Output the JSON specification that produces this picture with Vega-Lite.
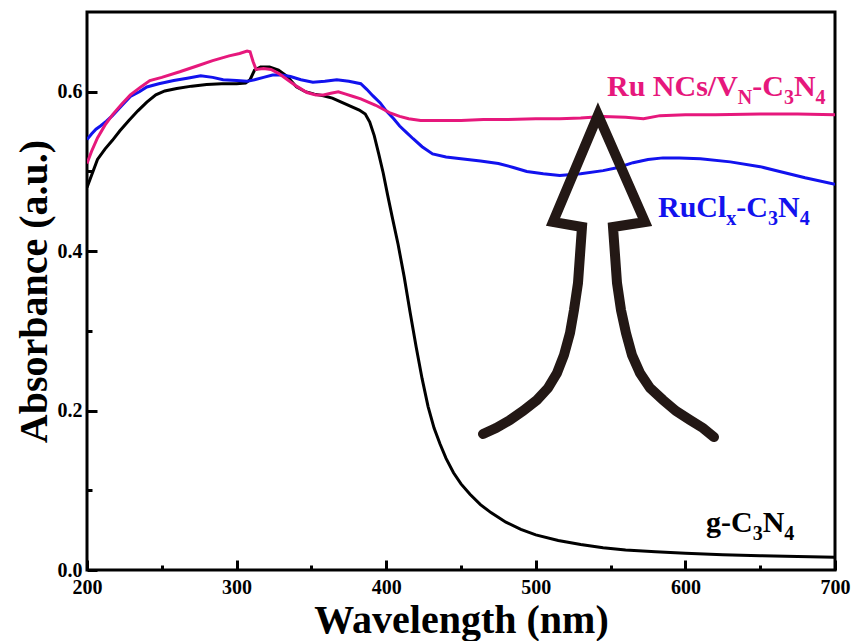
{
  "$schema": "https://vega.github.io/schema/vega-lite/v6.json",
  "width": 748,
  "height": 558,
  "autosize": {"type": "none"},
  "padding": {"left": 87, "top": 12, "right": 18, "bottom": 71},
  "background": "white",
  "config": {
    "view": {"stroke": "#000000", "strokeWidth": 3},
    "axis": {
      "domain": false,
      "grid": false,
      "tickColor": "#000000",
      "tickWidth": 3,
      "labelFont": "Liberation Serif",
      "labelFontWeight": "bold",
      "labelFontSize": 20,
      "labelColor": "#000000",
      "titleFont": "Liberation Serif",
      "titleFontWeight": "bold",
      "titleFontSize": 40,
      "titleColor": "#000000",
      "labelFlush": false,
      "labelOverlap": false,
      "labelBound": false
    }
  },
  "datasets": {
    "curves": [
      {"series": "g", "wl": 200, "abs": 0.480},
      {"series": "g", "wl": 203, "abs": 0.495},
      {"series": "g", "wl": 207, "abs": 0.515},
      {"series": "g", "wl": 212, "abs": 0.528},
      {"series": "g", "wl": 217, "abs": 0.539},
      {"series": "g", "wl": 222, "abs": 0.551},
      {"series": "g", "wl": 228, "abs": 0.564},
      {"series": "g", "wl": 234, "abs": 0.576},
      {"series": "g", "wl": 240, "abs": 0.587},
      {"series": "g", "wl": 246, "abs": 0.596},
      {"series": "g", "wl": 252, "abs": 0.601},
      {"series": "g", "wl": 260, "abs": 0.604},
      {"series": "g", "wl": 270, "abs": 0.607},
      {"series": "g", "wl": 280, "abs": 0.609},
      {"series": "g", "wl": 290, "abs": 0.610},
      {"series": "g", "wl": 300, "abs": 0.610},
      {"series": "g", "wl": 306, "abs": 0.611},
      {"series": "g", "wl": 309, "abs": 0.615},
      {"series": "g", "wl": 312, "abs": 0.627},
      {"series": "g", "wl": 316, "abs": 0.631},
      {"series": "g", "wl": 322, "abs": 0.631},
      {"series": "g", "wl": 328, "abs": 0.627},
      {"series": "g", "wl": 334, "abs": 0.619},
      {"series": "g", "wl": 340, "abs": 0.606},
      {"series": "g", "wl": 346, "abs": 0.600},
      {"series": "g", "wl": 352, "abs": 0.597},
      {"series": "g", "wl": 358, "abs": 0.595},
      {"series": "g", "wl": 364, "abs": 0.592},
      {"series": "g", "wl": 370, "abs": 0.587},
      {"series": "g", "wl": 376, "abs": 0.582},
      {"series": "g", "wl": 382, "abs": 0.577},
      {"series": "g", "wl": 386, "abs": 0.572},
      {"series": "g", "wl": 389, "abs": 0.562},
      {"series": "g", "wl": 392, "abs": 0.545},
      {"series": "g", "wl": 395, "abs": 0.522},
      {"series": "g", "wl": 398, "abs": 0.498},
      {"series": "g", "wl": 401, "abs": 0.470},
      {"series": "g", "wl": 404, "abs": 0.443},
      {"series": "g", "wl": 408, "abs": 0.408},
      {"series": "g", "wl": 412, "abs": 0.368},
      {"series": "g", "wl": 416, "abs": 0.323},
      {"series": "g", "wl": 420, "abs": 0.280},
      {"series": "g", "wl": 424, "abs": 0.240},
      {"series": "g", "wl": 428, "abs": 0.205},
      {"series": "g", "wl": 432, "abs": 0.178},
      {"series": "g", "wl": 436, "abs": 0.158},
      {"series": "g", "wl": 440, "abs": 0.140},
      {"series": "g", "wl": 445, "abs": 0.122},
      {"series": "g", "wl": 450, "abs": 0.108},
      {"series": "g", "wl": 456, "abs": 0.095},
      {"series": "g", "wl": 463, "abs": 0.082},
      {"series": "g", "wl": 470, "abs": 0.072},
      {"series": "g", "wl": 480, "abs": 0.060},
      {"series": "g", "wl": 490, "abs": 0.051},
      {"series": "g", "wl": 500, "abs": 0.044},
      {"series": "g", "wl": 515, "abs": 0.037},
      {"series": "g", "wl": 530, "abs": 0.032},
      {"series": "g", "wl": 545, "abs": 0.028},
      {"series": "g", "wl": 560, "abs": 0.025},
      {"series": "g", "wl": 580, "abs": 0.023},
      {"series": "g", "wl": 600, "abs": 0.021},
      {"series": "g", "wl": 625, "abs": 0.019},
      {"series": "g", "wl": 650, "abs": 0.018},
      {"series": "g", "wl": 675, "abs": 0.017},
      {"series": "g", "wl": 700, "abs": 0.016},

      {"series": "RuCl", "wl": 200, "abs": 0.540},
      {"series": "RuCl", "wl": 203, "abs": 0.547},
      {"series": "RuCl", "wl": 206, "abs": 0.553},
      {"series": "RuCl", "wl": 209, "abs": 0.557},
      {"series": "RuCl", "wl": 213, "abs": 0.563},
      {"series": "RuCl", "wl": 217, "abs": 0.570},
      {"series": "RuCl", "wl": 223, "abs": 0.582},
      {"series": "RuCl", "wl": 229, "abs": 0.594},
      {"series": "RuCl", "wl": 235, "abs": 0.600},
      {"series": "RuCl", "wl": 240, "abs": 0.606},
      {"series": "RuCl", "wl": 248, "abs": 0.610},
      {"series": "RuCl", "wl": 258, "abs": 0.614},
      {"series": "RuCl", "wl": 267, "abs": 0.617},
      {"series": "RuCl", "wl": 276, "abs": 0.620},
      {"series": "RuCl", "wl": 284, "abs": 0.618},
      {"series": "RuCl", "wl": 291, "abs": 0.615},
      {"series": "RuCl", "wl": 300, "abs": 0.614},
      {"series": "RuCl", "wl": 307, "abs": 0.613},
      {"series": "RuCl", "wl": 312, "abs": 0.615},
      {"series": "RuCl", "wl": 318, "abs": 0.618},
      {"series": "RuCl", "wl": 324, "abs": 0.621},
      {"series": "RuCl", "wl": 330, "abs": 0.621},
      {"series": "RuCl", "wl": 336, "abs": 0.619},
      {"series": "RuCl", "wl": 343, "abs": 0.615},
      {"series": "RuCl", "wl": 351, "abs": 0.612},
      {"series": "RuCl", "wl": 359, "abs": 0.613},
      {"series": "RuCl", "wl": 367, "abs": 0.615},
      {"series": "RuCl", "wl": 375, "abs": 0.613},
      {"series": "RuCl", "wl": 383, "abs": 0.610},
      {"series": "RuCl", "wl": 387, "abs": 0.603},
      {"series": "RuCl", "wl": 391, "abs": 0.595},
      {"series": "RuCl", "wl": 396, "abs": 0.586},
      {"series": "RuCl", "wl": 400, "abs": 0.576},
      {"series": "RuCl", "wl": 405, "abs": 0.566},
      {"series": "RuCl", "wl": 409, "abs": 0.557},
      {"series": "RuCl", "wl": 414, "abs": 0.548},
      {"series": "RuCl", "wl": 418, "abs": 0.541},
      {"series": "RuCl", "wl": 424, "abs": 0.531},
      {"series": "RuCl", "wl": 431, "abs": 0.522},
      {"series": "RuCl", "wl": 440, "abs": 0.518},
      {"series": "RuCl", "wl": 450, "abs": 0.516},
      {"series": "RuCl", "wl": 463, "abs": 0.513},
      {"series": "RuCl", "wl": 475, "abs": 0.510},
      {"series": "RuCl", "wl": 485, "abs": 0.505},
      {"series": "RuCl", "wl": 494, "abs": 0.500},
      {"series": "RuCl", "wl": 505, "abs": 0.497},
      {"series": "RuCl", "wl": 516, "abs": 0.495},
      {"series": "RuCl", "wl": 530, "abs": 0.497},
      {"series": "RuCl", "wl": 545, "abs": 0.501},
      {"series": "RuCl", "wl": 555, "abs": 0.505},
      {"series": "RuCl", "wl": 565, "abs": 0.511},
      {"series": "RuCl", "wl": 575, "abs": 0.515},
      {"series": "RuCl", "wl": 585, "abs": 0.517},
      {"series": "RuCl", "wl": 596, "abs": 0.517},
      {"series": "RuCl", "wl": 610, "abs": 0.516},
      {"series": "RuCl", "wl": 630, "abs": 0.512},
      {"series": "RuCl", "wl": 650, "abs": 0.506},
      {"series": "RuCl", "wl": 663, "abs": 0.500},
      {"series": "RuCl", "wl": 680, "abs": 0.492},
      {"series": "RuCl", "wl": 700, "abs": 0.484},

      {"series": "RuNC", "wl": 200, "abs": 0.510},
      {"series": "RuNC", "wl": 203, "abs": 0.525},
      {"series": "RuNC", "wl": 207, "abs": 0.542},
      {"series": "RuNC", "wl": 212, "abs": 0.558},
      {"series": "RuNC", "wl": 217, "abs": 0.571},
      {"series": "RuNC", "wl": 223, "abs": 0.584},
      {"series": "RuNC", "wl": 229, "abs": 0.596},
      {"series": "RuNC", "wl": 236, "abs": 0.606},
      {"series": "RuNC", "wl": 242, "abs": 0.614},
      {"series": "RuNC", "wl": 250, "abs": 0.618},
      {"series": "RuNC", "wl": 262, "abs": 0.625},
      {"series": "RuNC", "wl": 273, "abs": 0.632},
      {"series": "RuNC", "wl": 284, "abs": 0.639},
      {"series": "RuNC", "wl": 295, "abs": 0.645},
      {"series": "RuNC", "wl": 302, "abs": 0.648},
      {"series": "RuNC", "wl": 307, "abs": 0.651},
      {"series": "RuNC", "wl": 309, "abs": 0.650},
      {"series": "RuNC", "wl": 311, "abs": 0.638},
      {"series": "RuNC", "wl": 313, "abs": 0.628},
      {"series": "RuNC", "wl": 318, "abs": 0.629},
      {"series": "RuNC", "wl": 323, "abs": 0.628},
      {"series": "RuNC", "wl": 328, "abs": 0.623},
      {"series": "RuNC", "wl": 334, "abs": 0.615},
      {"series": "RuNC", "wl": 340, "abs": 0.607},
      {"series": "RuNC", "wl": 347, "abs": 0.599},
      {"series": "RuNC", "wl": 353, "abs": 0.596},
      {"series": "RuNC", "wl": 358, "abs": 0.596},
      {"series": "RuNC", "wl": 363, "abs": 0.598},
      {"series": "RuNC", "wl": 368, "abs": 0.600},
      {"series": "RuNC", "wl": 373, "abs": 0.597},
      {"series": "RuNC", "wl": 378, "abs": 0.594},
      {"series": "RuNC", "wl": 383, "abs": 0.591},
      {"series": "RuNC", "wl": 388, "abs": 0.587},
      {"series": "RuNC", "wl": 393, "abs": 0.583},
      {"series": "RuNC", "wl": 398, "abs": 0.578},
      {"series": "RuNC", "wl": 403, "abs": 0.573},
      {"series": "RuNC", "wl": 409, "abs": 0.569},
      {"series": "RuNC", "wl": 415, "abs": 0.566},
      {"series": "RuNC", "wl": 423, "abs": 0.564},
      {"series": "RuNC", "wl": 435, "abs": 0.564},
      {"series": "RuNC", "wl": 450, "abs": 0.564},
      {"series": "RuNC", "wl": 465, "abs": 0.565},
      {"series": "RuNC", "wl": 480, "abs": 0.565},
      {"series": "RuNC", "wl": 500, "abs": 0.566},
      {"series": "RuNC", "wl": 516, "abs": 0.566},
      {"series": "RuNC", "wl": 530, "abs": 0.567},
      {"series": "RuNC", "wl": 545, "abs": 0.569},
      {"series": "RuNC", "wl": 560, "abs": 0.568},
      {"series": "RuNC", "wl": 572, "abs": 0.566},
      {"series": "RuNC", "wl": 583, "abs": 0.570},
      {"series": "RuNC", "wl": 600, "abs": 0.571},
      {"series": "RuNC", "wl": 620, "abs": 0.571},
      {"series": "RuNC", "wl": 650, "abs": 0.572},
      {"series": "RuNC", "wl": 675, "abs": 0.572},
      {"series": "RuNC", "wl": 700, "abs": 0.571}
    ],
    "arrow": [
      {"i": 1, "wl": 464.71, "abs": 0.1706},
      {"i": 2, "wl": 473.40, "abs": 0.1781},
      {"i": 3, "wl": 482.75, "abs": 0.1882},
      {"i": 4, "wl": 491.44, "abs": 0.1995},
      {"i": 5, "wl": 500.80, "abs": 0.2133},
      {"i": 6, "wl": 508.15, "abs": 0.2283},
      {"i": 7, "wl": 514.17, "abs": 0.2471},
      {"i": 8, "wl": 518.85, "abs": 0.2697},
      {"i": 9, "wl": 522.86, "abs": 0.2973},
      {"i": 10, "wl": 525.53, "abs": 0.3261},
      {"i": 11, "wl": 528.21, "abs": 0.3600},
      {"i": 12, "wl": 529.55, "abs": 0.3952},
      {"i": 13, "wl": 530.88, "abs": 0.4303},
      {"i": 14, "wl": 511.50, "abs": 0.4366},
      {"i": 15, "wl": 541.58, "abs": 0.5708},
      {"i": 16, "wl": 572.99, "abs": 0.4366},
      {"i": 17, "wl": 551.60, "abs": 0.4303},
      {"i": 18, "wl": 552.94, "abs": 0.3952},
      {"i": 19, "wl": 554.28, "abs": 0.3600},
      {"i": 20, "wl": 556.95, "abs": 0.3261},
      {"i": 21, "wl": 560.29, "abs": 0.2973},
      {"i": 22, "wl": 564.30, "abs": 0.2697},
      {"i": 23, "wl": 569.65, "abs": 0.2471},
      {"i": 24, "wl": 576.34, "abs": 0.2283},
      {"i": 25, "wl": 585.03, "abs": 0.2133},
      {"i": 26, "wl": 593.72, "abs": 0.1995},
      {"i": 27, "wl": 603.07, "abs": 0.1882},
      {"i": 28, "wl": 611.76, "abs": 0.1781},
      {"i": 29, "wl": 619.12, "abs": 0.1668}
    ],
    "labels": [
      {"series": "RuNC", "part": "main", "text": "Ru NCs/V", "wl": 547.59, "abs": 0.594},
      {"series": "RuNC", "part": "sub", "text": "N", "wl": 635.03, "abs": 0.594},
      {"series": "RuNC", "part": "main", "text": "-C", "wl": 644.65, "abs": 0.594},
      {"series": "RuNC", "part": "sub", "text": "3", "wl": 665.84, "abs": 0.594},
      {"series": "RuNC", "part": "main", "text": "N", "wl": 672.53, "abs": 0.594},
      {"series": "RuNC", "part": "sub", "text": "4", "wl": 687.03, "abs": 0.594},
      {"series": "RuCl", "part": "main", "text": "RuCl", "wl": 581.68, "abs": 0.4428},
      {"series": "RuCl", "part": "sub", "text": "x", "wl": 627.34, "abs": 0.4428},
      {"series": "RuCl", "part": "main", "text": "-C", "wl": 634.02, "abs": 0.4428},
      {"series": "RuCl", "part": "sub", "text": "3", "wl": 655.21, "abs": 0.4428},
      {"series": "RuCl", "part": "main", "text": "N", "wl": 661.90, "abs": 0.4428},
      {"series": "RuCl", "part": "sub", "text": "4", "wl": 676.40, "abs": 0.4428},
      {"series": "g", "part": "main", "text": "g-C", "wl": 613.77, "abs": 0.0477},
      {"series": "g", "part": "sub", "text": "3", "wl": 644.95, "abs": 0.0477},
      {"series": "g", "part": "main", "text": "N", "wl": 651.64, "abs": 0.0477},
      {"series": "g", "part": "sub", "text": "4", "wl": 666.11, "abs": 0.0477}
    ]
  },
  "resolve": {"axis": {"x": "independent", "y": "independent"}},
  "layer": [
    {
      "data": {"name": "curves"},
      "mark": {"type": "line", "strokeWidth": 3, "clip": true},
      "encoding": {
        "x": {
          "field": "wl", "type": "quantitative",
          "scale": {"domain": [200, 700], "nice": false, "zero": false},
          "axis": {
            "orient": "bottom",
            "values": [200, 300, 400, 500, 600, 700],
            "format": "d",
            "tickSize": -10,
            "labelPadding": 17,
            "title": "Wavelength (nm)",
            "titlePadding": 3
          }
        },
        "y": {
          "field": "abs", "type": "quantitative",
          "scale": {"domain": [0, 0.7], "nice": false, "zero": false},
          "axis": {
            "orient": "left",
            "values": [0, 0.2, 0.4, 0.6],
            "format": ".1f",
            "tickSize": -10,
            "labelPadding": 15,
            "title": "Absorbance (a.u.)",
            "titlePadding": 3
          }
        },
        "color": {
          "field": "series", "type": "nominal",
          "scale": {"domain": ["g", "RuCl", "RuNC"], "range": ["#000000", "#1212EE", "#E6187C"]},
          "legend": null
        }
      }
    },
    {
      "data": {"name": "arrow"},
      "mark": {"type": "line", "strokeWidth": 10, "color": "#231815", "strokeJoin": "miter", "strokeCap": "round"},
      "encoding": {
        "x": {
          "field": "wl", "type": "quantitative",
          "axis": {
            "orient": "bottom",
            "values": [250, 350, 450, 550, 650],
            "labels": false,
            "tickSize": -5,
            "title": null
          }
        },
        "y": {
          "field": "abs", "type": "quantitative",
          "axis": {
            "orient": "left",
            "values": [0.1, 0.3, 0.5],
            "labels": false,
            "tickSize": -5,
            "title": null
          }
        },
        "order": {"field": "i", "type": "quantitative"}
      }
    },
    {
      "data": {"name": "labels"},
      "transform": [{"filter": "datum.part === 'main'"}],
      "mark": {"type": "text", "align": "left", "baseline": "alphabetic", "font": "Liberation Serif", "fontWeight": "bold", "fontSize": 30},
      "encoding": {
        "x": {"field": "wl", "type": "quantitative", "axis": null},
        "y": {"field": "abs", "type": "quantitative", "axis": null},
        "text": {"field": "text"},
        "color": {"field": "series", "type": "nominal", "legend": null}
      }
    },
    {
      "data": {"name": "labels"},
      "transform": [{"filter": "datum.part === 'sub'"}],
      "mark": {"type": "text", "align": "left", "baseline": "alphabetic", "font": "Liberation Serif", "fontWeight": "bold", "fontSize": 20, "dy": 8},
      "encoding": {
        "x": {"field": "wl", "type": "quantitative", "axis": null},
        "y": {"field": "abs", "type": "quantitative", "axis": null},
        "text": {"field": "text"},
        "color": {"field": "series", "type": "nominal", "legend": null}
      }
    }
  ]
}
